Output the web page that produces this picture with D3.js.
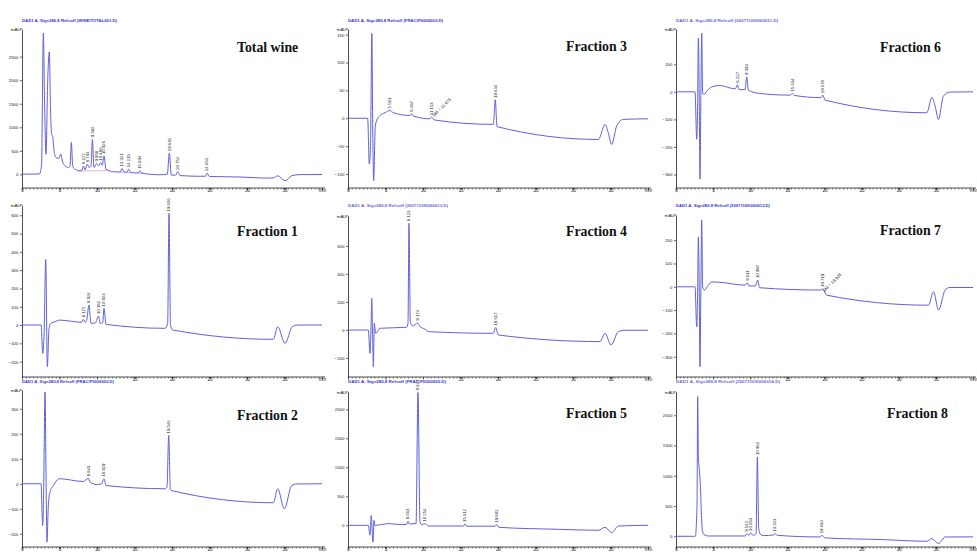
<!DOCTYPE html>
<html><head><meta charset="utf-8">
<script src="https://cdn.jsdelivr.net/npm/d3@7"></script>
<style>body{margin:0;background:#fff}svg{display:block}</style>
</head><body><svg id="c" width="977" height="556"></svg>
<script>
// ---------- data ----------
const xTicks = [0,5,10,15,20,25,30,35,40];
const xTickLabels = ["0","5","10","15","20","25","30","35","min"];
const panelTitles = ["Total wine","Fraction 3","Fraction 6","Fraction 1","Fraction 4","Fraction 7","Fraction 2","Fraction 5","Fraction 8"];
const panelHeaders = [
  "DAD1 A, Sig=280,8 Ref=off (WINE\\TOTAL001.D)",
  "DAD1 A, Sig=280,8 Ref=off (FRAC\\F0000003.D)",
  "DAD1 A, Sig=280,8 Ref=off (20071109\\000011.D)",
  "",
  "DAD1 A, Sig=280,8 Ref=off (20071109\\000013.D)",
  "DAD1 A, Sig=280,8 Ref=off (20071109\\000012.D)",
  "DAD1 A, Sig=280,8 Ref=off (FRAC\\F0000002.D)",
  "DAD1 A, Sig=280,8 Ref=off (FRAC\\F0000005.D)",
  "DAD1 A, Sig=280,8 Ref=off (20071109\\000014.D)"
];
const yTicksList = [
  [0,500,1000,1500,2000,2500],
  [-100,-50,0,50,100,150],
  [-300,-200,-100,0,100],
  [-200,-100,0,100,200,300,400,500,600],
  [-200,0,200,400,600],
  [-300,-200,-100,0,100,200],
  [-200,-100,0,100,200,300],
  [0,500,1000,1500,2000],
  [0,500,1000,1500,2000]
];
const yDomains = [
  [-289,3087],[-125,160],[-349,228],
  [-284,656],[-336,814],[-387,308],
  [-253,375],[-374,2298],[-177,2385]
];

const totalWine = [[0,5],[2.3,8],[2.6,180],[2.85,3000],[3.0,1600],[3.2,430],[3.42,1950],[3.64,2600],[3.82,1250],[3.96,850],[4.1,800],[4.27,500],[4.53,360],[4.9,340],[5.15,430],[5.42,265],[5.73,180],[6.18,145],[6.4,180],[6.58,680],[6.76,180],[7.07,110],[7.73,75],[8.0,90],[8.18,180],[8.4,95],[8.71,215],[8.98,145],[9.2,170],[9.38,745],[9.6,145],[9.96,230],[10.22,180],[10.49,250],[10.71,195],[10.93,390],[11.2,110],[12.2,55],[13.1,50],[13.33,125],[13.6,50],[14.0,45],[14.22,110],[14.5,40],[15.5,30],[15.7,75],[16.0,25],[18.4,-8],[19.38,5],[19.64,450],[19.91,-15],[20.5,-15],[20.76,55],[21.07,-25],[23.73,-40],[24.5,-38],[24.67,25],[25.0,-45],[29.07,-55],[32.6,-80],[33.5,-75],[34.1,-30],[35.07,-135],[36.0,-25],[37.1,-5],[40,-3]];
const fraction3 = [[0,0],[2.62,0],[2.84,-82],[3.0,-50],[3.18,152],[3.3,-20],[3.42,-112],[3.64,-14],[3.8,-5],[4.27,5],[4.93,10],[5.6,14],[6.04,10],[8.27,5],[8.49,8],[8.71,4],[10.93,-1],[11.15,2],[11.47,-3],[19.38,-11],[19.64,33],[19.87,-15],[33.38,-38],[34.27,-11],[34.7,-26],[35.16,-47],[35.82,-14],[36.7,-2],[40,-1]];
const fraction6 = [[0,0],[2.56,0],[2.79,-172],[2.92,-28],[3.01,195],[3.14,-52],[3.23,-317],[3.37,32],[3.46,213],[3.59,-4],[3.77,-10],[4.13,2],[4.81,18],[5.93,23],[7.28,14],[8.0,11],[8.27,26],[8.5,8],[9.3,8],[9.52,54],[9.75,6],[11.3,-6],[15.36,-12],[15.68,-6],[15.95,-13],[19.5,-21],[19.77,-12],[20.08,-30],[33.78,-76],[34.46,-20],[34.9,-52],[35.36,-100],[36.0,-16],[36.9,-1],[40,0]];
const fraction1 = [[0,0],[2.55,0],[2.76,-155],[2.95,-40],[3.16,358],[3.38,-227],[3.6,-20],[3.85,10],[4.4,18],[4.98,27],[7.96,15],[8.18,31],[8.4,16],[8.62,27],[8.93,109],[9.2,9],[9.8,12],[10.18,49],[10.44,9],[10.76,12],[10.93,91],[11.2,4],[19.07,-18],[19.42,9],[19.6,610],[19.8,0],[20.09,-27],[33.51,-78],[34.09,-9],[35.07,-100],[36.04,-9],[36.8,0],[40,0]];
const fraction4 = [[0,0],[2.71,0],[2.93,-167],[3.07,24],[3.16,226],[3.29,-71],[3.38,-262],[3.51,48],[3.69,-24],[4.27,12],[7.82,19],[8.0,48],[8.13,762],[8.31,60],[8.58,29],[8.93,36],[9.24,52],[9.6,24],[10.27,5],[10.71,-12],[19.38,-24],[19.69,17],[20.04,-36],[33.6,-83],[34.27,-24],[35.07,-107],[36.04,-12],[36.9,-2],[40,-2]];
const fraction7 = [[0,0],[2.56,0],[2.79,-172],[2.92,-14],[3.01,214],[3.14,-43],[3.23,-343],[3.37,57],[3.46,286],[3.59,0],[3.82,-14],[4.36,7],[4.81,21],[5.7,20],[9.3,7],[9.61,17],[9.85,3],[10.7,4],[11.0,29],[11.25,-4],[19.41,-14],[19.77,-9],[20.3,-36],[34.0,-79],[34.68,-21],[35.36,-100],[36.25,-14],[36.9,-3],[40,-3]];
const fraction2 = [[0,0],[2.53,0],[2.76,-167],[2.89,-20],[3.07,367],[3.2,47],[3.33,-233],[3.51,-87],[3.73,-33],[4.18,-7],[4.98,20],[8.18,9],[8.84,22],[9.07,7],[9.96,-3],[10.62,0],[10.93,20],[11.2,-7],[19.07,-20],[19.33,-13],[19.56,193],[19.78,-20],[19.91,-27],[33.51,-76],[34.09,-20],[34.98,-100],[35.96,-7],[36.6,-1],[40,0]];
const fraction5 = [[0,0],[2.71,0],[2.93,-170],[3.1,170],[3.33,-290],[3.47,86],[3.6,-10],[3.8,0],[4.49,12],[5.38,29],[7.16,12],[7.82,17],[8.0,69],[8.18,23],[9.07,29],[9.33,2290],[9.6,57],[9.82,12],[10.27,29],[10.71,-12],[15.38,-12],[15.6,23],[15.82,-15],[19.6,-15],[19.82,12],[20.13,-35],[28.04,-69],[33.38,-86],[34.27,-35],[35.16,-126],[36.04,-12],[40,0]];
const fraction8 = [[0,0],[2.6,0],[2.83,510],[2.92,2310],[3.01,1330],[3.14,1115],[3.23,950],[3.32,730],[3.41,400],[3.55,100],[3.77,27],[4.36,5],[9.3,5],[9.52,44],[9.75,16],[10.06,55],[10.38,16],[10.78,44],[10.96,1310],[11.14,126],[11.41,27],[11.77,11],[13.12,22],[13.34,44],[13.66,16],[19.41,-11],[19.63,16],[20.08,-27],[27.94,-55],[33.78,-82],[34.46,-38],[35.36,-121],[36.25,-11],[40,-10]];

const totalWinePeaks = [[8.18,"8.172"],[8.71,"8.704"],[9.38,"9.382"],[9.96,"9.958"],[10.49,"10.486"],[10.93,"10.925"],[13.33,"13.321"],[14.22,"14.215"],[15.7,"15.694"],[19.64,"19.636"],[20.76,"20.752"],[24.67,"24.663"]];
const fraction3Peaks = [[5.6,"5.581"],[8.49,"8.487"],[11.15,"11.153"],[19.64,"19.634"]];
const fraction6Peaks = [[8.27,"8.227"],[9.52,"9.393"],[15.68,"15.634"],[19.77,"19.678"]];
const fraction1Peaks = [[8.18,"8.172"],[8.93,"8.924"],[10.18,"10.182"],[10.93,"10.923"],[19.6,"19.606"]];
const fraction4Peaks = [[8.13,"8.123"],[9.24,"9.174"],[19.69,"19.617"]];
const fraction7Peaks = [[9.61,"9.611"],[11.0,"10.997"],[19.77,"19.719"]];
const fraction2Peaks = [[8.84,"8.843"],[10.93,"10.929"],[19.56,"19.546"]];
const fraction5Peaks = [[8.0,"8.013"],[9.33,"9.327"],[10.27,"10.254"],[15.6,"15.612"],[19.82,"19.802"]];
const fraction8Peaks = [[9.52,"9.542"],[10.06,"10.063"],[10.96,"10.962"],[13.34,"13.323"],[19.63,"19.634"]];
const fraction3Notes = [[11.5,"SM = 11.475"]];
const fraction7Notes = [[20.0,"SM = 19.928"]];
const totalWineBaselines = [[7.6,70,11.4,80],[13.0,45,13.7,45],[13.9,42,14.6,35],[15.4,28,16.1,22]];
// x-tick labels hidden behind the header of the panel below (middle row)
const hiddenMiddleRowXLabels = ["0","5","10"];

// ---------- layout ----------
const cols = [[22,322],[348,648],[676,973]];
const panels = [
  {c:0, r:0, top:29, bottom:188, tx:237, ty:51.5, hy:21.5, hw:95},
  {c:1, r:0, top:29, bottom:188, tx:566, ty:51, hy:21.5, hw:95},
  {c:2, r:0, top:29, bottom:188, tx:880, ty:51.5, hy:21.5, hw:102},
  {c:0, r:1, top:205, bottom:377, tx:237, ty:236, hy:200, hw:95},
  {c:1, r:1, top:216, bottom:377, tx:566, ty:236, hy:206.5, hw:100},
  {c:2, r:1, top:215, bottom:377, tx:880, ty:234.5, hy:207, hw:94},
  {c:0, r:2, top:390, bottom:547, tx:237, ty:419.5, hy:382.5, hw:92},
  {c:1, r:2, top:392, bottom:547, tx:566, ty:418, hy:382.5, hw:98},
  {c:2, r:2, top:392, bottom:547, tx:887, ty:418, hy:382.5, hw:104}
];
const traces = [totalWine,fraction3,fraction6,fraction1,fraction4,fraction7,fraction2,fraction5,fraction8];
const peakSets = [totalWinePeaks,fraction3Peaks,fraction6Peaks,fraction1Peaks,fraction4Peaks,fraction7Peaks,fraction2Peaks,fraction5Peaks,fraction8Peaks];
const noteSets = [[],fraction3Notes,[],[],[],fraction7Notes,[],[],[]];

const svg = d3.select("#c");
const FONT = "'Liberation Sans', Arial, sans-serif";
const TRACE = "#6060da";

panels.forEach((p,i)=>{
  const [x0,x1] = cols[p.c];
  const x = d3.scaleLinear().domain([0,40]).range([x0,x1]);
  const y = d3.scaleLinear().domain(yDomains[i]).range([p.bottom,p.top]);
  const g = svg.append("g");

  // header
  if (panelHeaders[i]) {
    g.append("text").attr("x",x0).attr("y",p.hy).text(panelHeaders[i])
      .attr("font-family",FONT).attr("font-size",4.4).attr("font-weight","bold")
      .attr("fill", i===2||i===4||i===8 ? "#6a6ad8" : "#3434d0")
      .attr("textLength",p.hw).attr("lengthAdjust","spacingAndGlyphs");
  }

  // x axis minor
  const minor = g.append("g").attr("transform",`translate(0,${p.bottom})`)
    .call(d3.axisBottom(x).tickValues(d3.range(0,40.01,0.5)).tickSize(1.6).tickFormat("").tickSizeOuter(0));
  minor.select(".domain").remove();
  minor.selectAll("line").attr("stroke","#333").attr("stroke-width",0.6);
  const xa = g.append("g").attr("transform",`translate(0,${p.bottom})`)
    .call(d3.axisBottom(x).tickValues(xTicks).tickSize(2.6).tickSizeOuter(0)
      .tickFormat((d,k)=> (p.r===1 && hiddenMiddleRowXLabels.includes(xTickLabels[k])) ? "" : xTickLabels[k]));
  xa.select(".domain").attr("stroke","#222").attr("stroke-width",0.8).attr("d",`M${x0},0H${x1+3}`);
  xa.selectAll("line").attr("stroke","#222").attr("stroke-width",0.7);
  xa.selectAll("text").attr("font-size",4.6).attr("font-family",FONT).attr("fill","#222").attr("dy","0.2em").attr("y",3.5);

  // y axis
  const ya = g.append("g").attr("transform",`translate(${x0},0)`)
    .call(d3.axisLeft(y).tickValues(yTicksList[i]).tickSize(2).tickSizeOuter(0).tickFormat(d3.format("d")));
  ya.select(".domain").attr("stroke","#222").attr("stroke-width",0.8);
  ya.selectAll("line").attr("stroke","#222").attr("stroke-width",0.7);
  ya.selectAll("text").attr("font-size",4.4).attr("font-family",FONT).attr("fill","#222").attr("x",-3.5);
  g.append("text").attr("x",x0-1.5).attr("y",p.top+1.5).attr("text-anchor","end")
    .attr("font-size",4.4).attr("font-family",FONT).attr("fill","#222").text("mAU");
  g.append("line").attr("x1",x0-2).attr("x2",x0).attr("y1",p.top).attr("y2",p.top).attr("stroke","#222").attr("stroke-width",0.7);

  // integration baselines (total wine)
  if (i===0) {
    totalWineBaselines.forEach(b=>{
      g.append("line").attr("x1",x(b[0])).attr("y1",y(b[1])).attr("x2",x(b[2])).attr("y2",y(b[3]))
        .attr("stroke","#e27aa6").attr("stroke-width",0.6);
    });
  }

  // trace
  const line = d3.line().x(d=>x(d[0])).y(d=>y(d[1])).curve(d3.curveMonotoneX);
  g.append("path").datum(traces[i]).attr("d",line).attr("fill","none")
    .attr("stroke",TRACE).attr("stroke-width",1).attr("stroke-linejoin","round");

  const apex = t => d3.max(traces[i].filter(d=>Math.abs(d[0]-t)<=0.12), d=>d[1]);
  // peak labels
  peakSets[i].forEach(([t,lab])=>{
    const px = x(t)+1.4, py = y(apex(t))-2;
    g.append("text").attr("transform",`translate(${px},${py}) rotate(-90)`)
      .attr("font-size",4.3).attr("font-family",FONT).attr("fill","#222").text(lab);
  });
  noteSets[i].forEach(([t,lab])=>{
    const v = apex(t) ?? traces[i].find(d=>d[0]>=t)[1];
    const px = x(t), py = y(v)-3;
    g.append("text").attr("transform",`translate(${px},${py}) rotate(-45)`)
      .attr("font-size",4.3).attr("font-family",FONT).attr("fill","#222").text(lab);
  });

  // title
  g.append("text").attr("x",p.tx).attr("y",p.ty).text(panelTitles[i])
    .attr("font-family","'Liberation Serif','Times New Roman',serif").attr("font-weight","bold")
    .attr("font-size",13.8).attr("fill","#111");
});
</script></body></html>
